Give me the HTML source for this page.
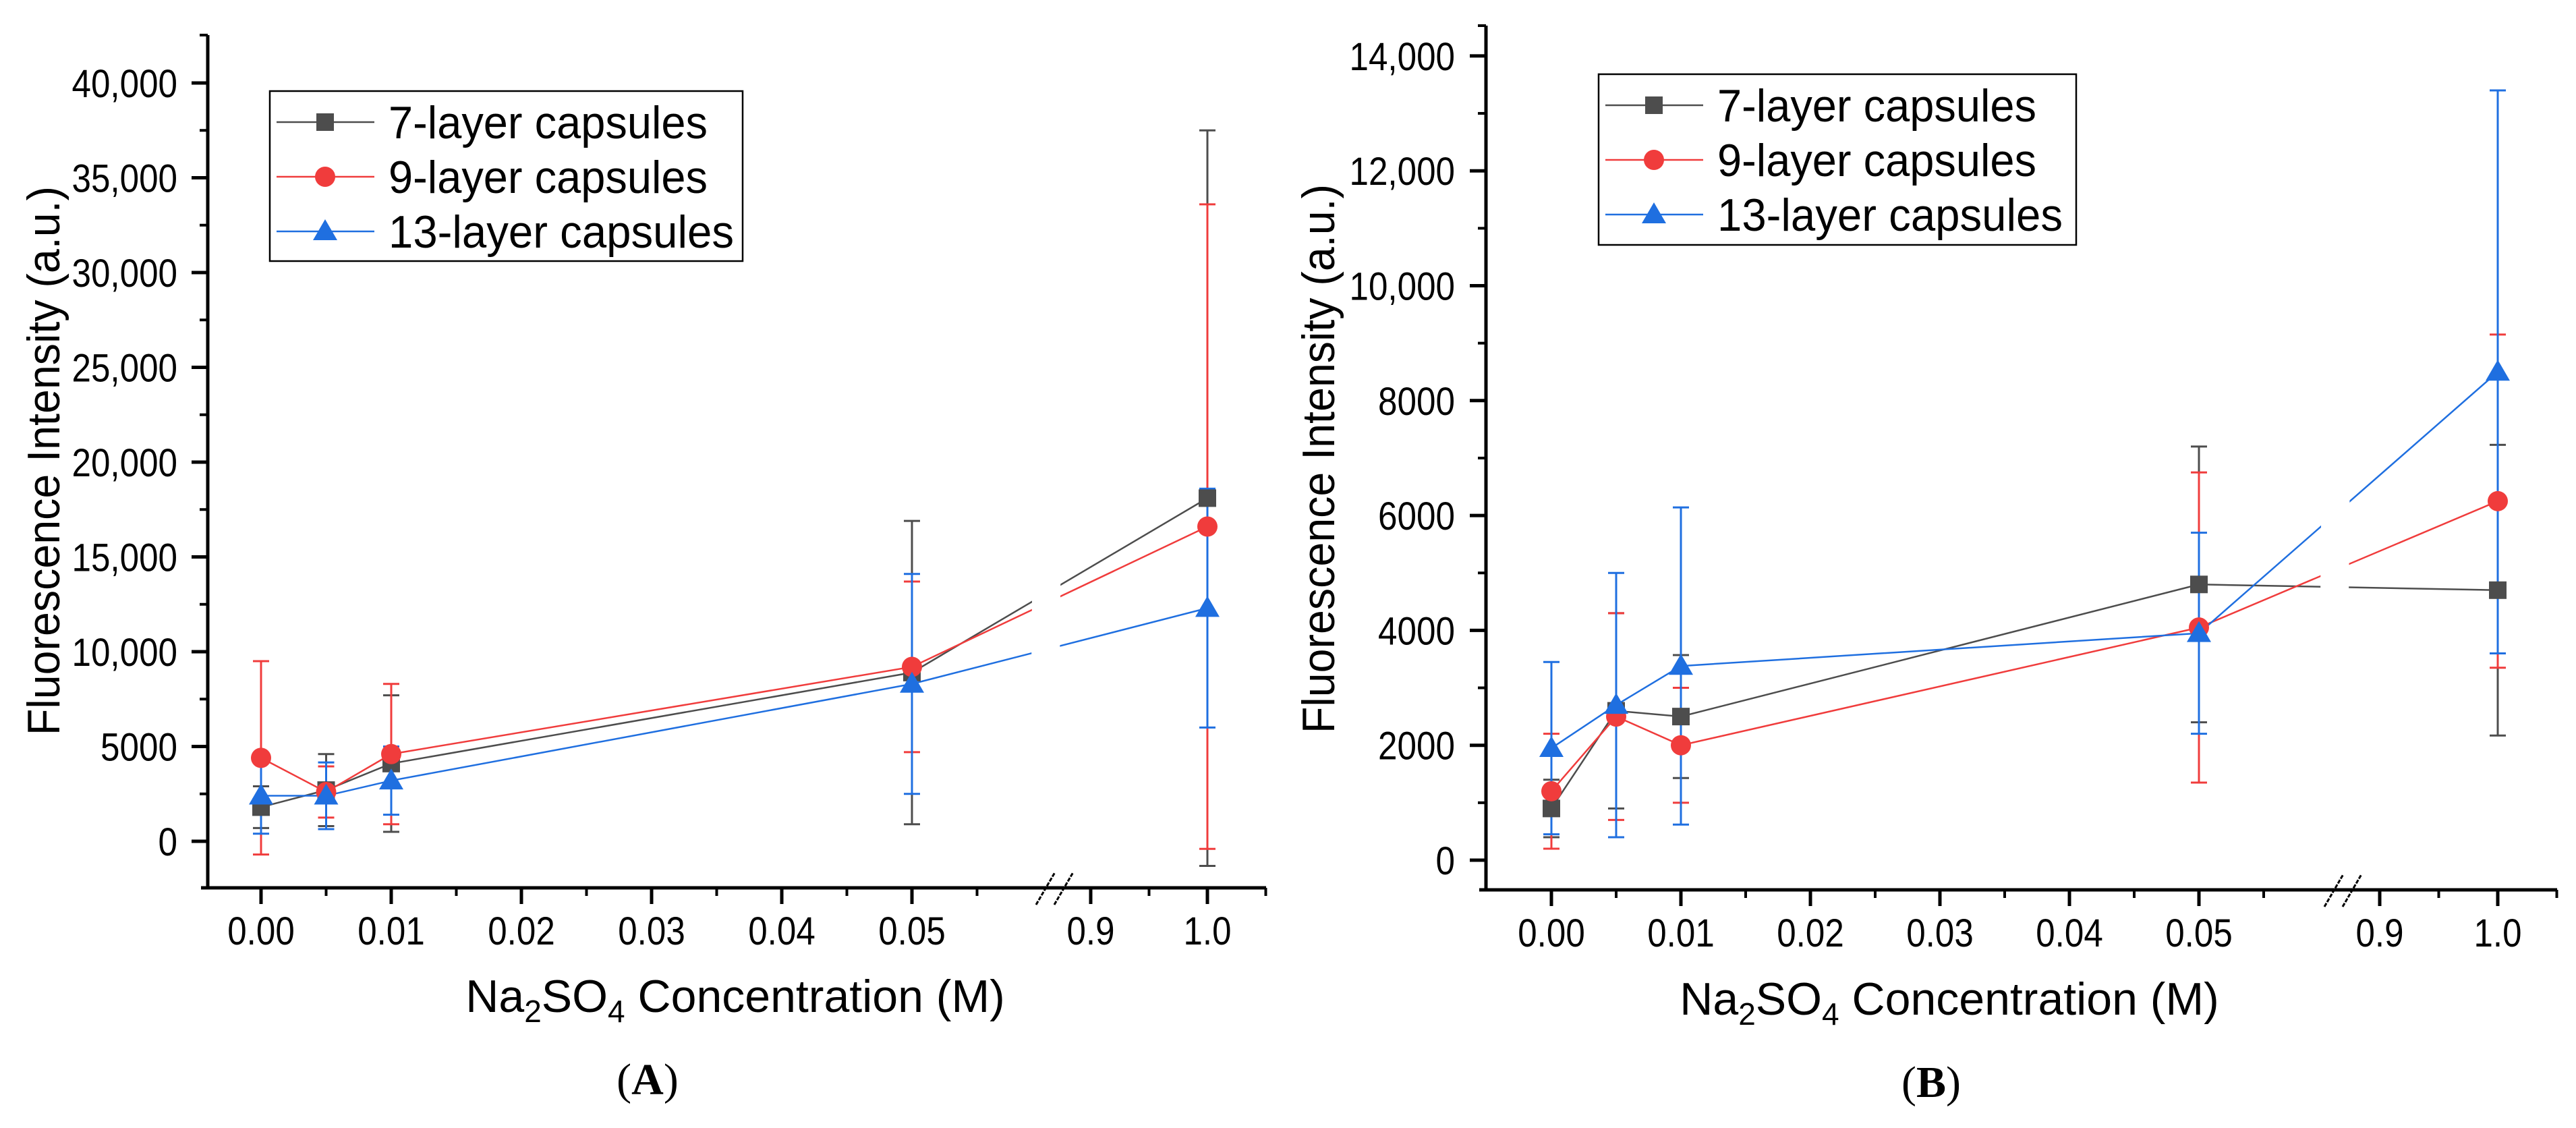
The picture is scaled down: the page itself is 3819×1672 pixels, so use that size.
<!DOCTYPE html>
<html><head><meta charset="utf-8"><style>
html,body{margin:0;padding:0;background:#fff;}
svg{display:block;font-family:"Liberation Sans",Arial,sans-serif;}
</style></head><body>
<svg id="chart" width="3819" height="1672" viewBox="0 0 3819 1672" xmlns="http://www.w3.org/2000/svg"></svg>
<script>
// Data
const categories = [0, 0.005, 0.01, 0.05, 1.0];
const seriesNames = ["7-layer capsules", "9-layer capsules", "13-layer capsules"];
const xTickLabelsLow = ["0.00", "0.01", "0.02", "0.03", "0.04", "0.05"];
const xTickLabelsHigh = ["0.9", "1.0"];
// Panel A
const a7 = [1800, 2700, 4100, 8900, 18100];
const a7err = [1100, 1900, 3600, 8000, 19400];
const a9 = [4400, 2600, 4600, 9200, 16600];
const a9err = [5100, 1350, 3700, 4500, 17000];
const a13 = [2400, 2400, 3200, 8300, 12300];
const a13err = [2000, 1760, 1800, 5800, 6300];
const aYTickLabels = ["0", "5000", "10,000", "15,000", "20,000", "25,000", "30,000", "35,000", "40,000"];
// Panel B
const b7 = [900, 2600, 2500, 4800, 4700];
const b7err = [500, 1700, 1070, 2400, 2530];
const b9 = [1200, 2500, 2000, 4050, 6250];
const b9err = [1000, 1800, 1000, 2700, 2900];
const b13 = [1950, 2700, 3380, 3950, 8500];
const b13err = [1500, 2300, 2760, 1750, 4900];
const bYTickLabels = ["0", "2000", "4000", "6000", "8000", "10,000", "12,000", "14,000"];

const NS = "http://www.w3.org/2000/svg";
const svg = document.getElementById("chart");
function mk(tag, attrs, parent) {
  const e = document.createElementNS(NS, tag);
  for (const k in attrs) e.setAttribute(k, attrs[k]);
  (parent || svg).appendChild(e);
  return e;
}
const colors = ["#4d4d4d", "#f03c3c", "#1f6fe0"];
function numLen(s) {
  let w = 0;
  for (const c of s) w += (c === "," || c === ".") ? 14 : 28.5;
  return w;
}

function drawPanel(P, series, errs, yLabels, yStep, panelName) {
  const g = mk("g", {});
  
  
  const xLow = v => P.x0 + (v / 0.01) * P.xPer01;
  const xHigh = v => P.x09 + (v - 0.9) / 0.1 * (P.x10 - P.x09);
  const X = v => v <= 0.1 ? xLow(v) : xHigh(v);
  const Y = v => P.y0 - v * P.yScale;

  const yAxis = mk("line", {x1: P.ax, y1: P.top, x2: P.ax, y2: P.axY + 2, stroke: "#000", "stroke-width": 5}, g);
  
  
  const xAxis = mk("line", {x1: P.ax - 10, y1: P.axY, x2: P.xEnd, y2: P.axY, stroke: "#000", "stroke-width": 5}, g);
  
  
  mk("line", {x1: P.ax - 12, y1: P.top, x2: P.ax, y2: P.top, stroke: "#000", "stroke-width": 4}, g);

  for (let i = 0; i < yLabels.length; i++) {
    const v = i * yStep, y = Y(v);
    mk("line", {x1: P.ax - 24, y1: y, x2: P.ax, y2: y, stroke: "#000", "stroke-width": 5}, g);
    const t = mk("text", {x: P.labR, y: y + 21, "text-anchor": "end", "font-size": 58, fill: "#000", textLength: numLen(yLabels[i]), lengthAdjust: "spacingAndGlyphs"}, g);
    t.textContent = yLabels[i];
    
    
    const ym = Y(v + yStep / 2);
    if (ym > P.top + 5) mk("line", {x1: P.ax - 12, y1: ym, x2: P.ax, y2: ym, stroke: "#000", "stroke-width": 4}, g);
  }
  const yneg = Y(-yStep / 2);
  if (yneg < P.axY - 5) mk("line", {x1: P.ax - 12, y1: yneg, x2: P.ax, y2: yneg, stroke: "#000", "stroke-width": 4}, g);

  for (let i = 0; i < xTickLabelsLow.length; i++) {
    const v = i * 0.01, x = xLow(v);
    mk("line", {x1: x, y1: P.axY, x2: x, y2: P.axY + 24, stroke: "#000", "stroke-width": 5}, g);
    const t = mk("text", {x: x, y: P.axY + 84, "text-anchor": "middle", "font-size": 58, fill: "#000", textLength: numLen(xTickLabelsLow[i]), lengthAdjust: "spacingAndGlyphs"}, g);
    t.textContent = xTickLabelsLow[i];
    
    
    const xm = xLow(v + 0.005);
    if (xm < P.brk - 20) mk("line", {x1: xm, y1: P.axY, x2: xm, y2: P.axY + 12, stroke: "#000", "stroke-width": 4}, g);
  }
  for (let i = 0; i < xTickLabelsHigh.length; i++) {
    const v = 0.9 + i * 0.1, x = xHigh(v);
    mk("line", {x1: x, y1: P.axY, x2: x, y2: P.axY + 24, stroke: "#000", "stroke-width": 5}, g);
    const t = mk("text", {x: x, y: P.axY + 84, "text-anchor": "middle", "font-size": 58, fill: "#000", textLength: numLen(xTickLabelsHigh[i]), lengthAdjust: "spacingAndGlyphs"}, g);
    t.textContent = xTickLabelsHigh[i];
    
    
    const xm = xHigh(v + 0.05);
    mk("line", {x1: xm, y1: P.axY, x2: xm, y2: P.axY + 12, stroke: "#000", "stroke-width": 4}, g);
  }

  series.forEach((vals, s) => {
    const sg = mk("g", {}, g);
    
    
    const pts = vals.map((v, i) => X(categories[i]) + "," + Y(v)).join(" ");
    mk("polyline", {points: pts, fill: "none", stroke: colors[s], "stroke-width": 2.5}, sg);
  });
  const gap = mk("polygon", {points: `${P.brk - 12},${P.top} ${P.brk + 30},${P.top} ${P.brk + 18},${P.axY - 4} ${P.brk - 24},${P.axY - 4}`, fill: "#fff"}, g);
  
  
  series.forEach((vals, s) => {
    vals.forEach((v, i) => {
      const x = X(categories[i]), e = errs[s][i];
      const eg = mk("g", {stroke: colors[s], "stroke-width": 3}, g);
      
      
      mk("line", {x1: x, y1: Y(v + e), x2: x, y2: Y(v - e)}, eg);
      mk("line", {x1: x - 12, y1: Y(v + e), x2: x + 12, y2: Y(v + e)}, eg);
      mk("line", {x1: x - 12, y1: Y(v - e), x2: x + 12, y2: Y(v - e)}, eg);
    });
  });
  series.forEach((vals, s) => {
    vals.forEach((v, i) => {
      const m = marker(g, s, X(categories[i]), Y(v));
      
      
    });
  });
  [0, 27].forEach(dx => {
    const bx = P.brk + dx;
    const sl = mk("line", {x1: bx - 14, y1: P.axY + 25, x2: bx + 14, y2: P.axY - 23, stroke: "#000", "stroke-width": 3, "stroke-dasharray": "6,2"}, g);
    
    
  });

  const yt = mk("text", {x: 0, y: 0, "text-anchor": "middle", "font-size": 68, fill: "#000", textLength: 814, lengthAdjust: "spacingAndGlyphs", transform: `translate(${P.ytX},${P.ytY}) rotate(-90)`}, g);
  yt.textContent = "Fluorescence Intensity (a.u.)";
  
  
  const xt = mk("text", {x: P.xtX, y: P.xtY, "text-anchor": "middle", "font-size": 68, fill: "#000"}, g);
  xt.innerHTML = 'Na<tspan font-size="46" dy="15">2</tspan><tspan dy="-15">SO</tspan><tspan font-size="46" dy="15">4</tspan><tspan dy="-15"> Concentration (M)</tspan>';
  
  
  const pl = mk("text", {x: P.plX, y: P.plY, "text-anchor": "middle", "font-size": 66, "font-family": "Liberation Serif, serif", fill: "#000"}, g);
  pl.innerHTML = '(<tspan font-weight="bold">' + P.letter + '</tspan>)';
  
  

  const lg = mk("g", {}, g);
  
  
  mk("rect", {x: P.lgX, y: P.lgY, width: P.lgW, height: P.lgH, fill: "#fff", stroke: "#000", "stroke-width": 2.5}, lg);
  const lens = [473, 473, 512];
  seriesNames.forEach((nm, s) => {
    const ry = P.lgY + 46 + s * 81;
    const eg = mk("g", {}, lg);
    
    
    mk("line", {x1: P.lgX + 10, y1: ry, x2: P.lgX + 155, y2: ry, stroke: colors[s], "stroke-width": 2.5}, eg);
    marker(eg, s, P.lgX + 82, ry);
    const t = mk("text", {x: P.lgX + 176, y: ry + 24, "font-size": 68, fill: "#000", textLength: lens[s], lengthAdjust: "spacingAndGlyphs"}, eg);
    t.textContent = nm;
  });
}

function marker(parent, s, x, y) {
  if (s === 0) return mk("rect", {x: x - 13, y: y - 13, width: 26, height: 26, fill: colors[0]}, parent);
  if (s === 1) return mk("circle", {cx: x, cy: y, r: 15, fill: colors[1]}, parent);
  return mk("polygon", {points: `${x},${y - 18} ${x + 18},${y + 13} ${x - 18},${y + 13}`, fill: colors[2]}, parent);
}

drawPanel({ax: 308, top: 52, y0: 1247, yScale: 140.5 / 5000, axY: 1316, x0: 387, xPer01: 193,
  x09: 1617, x10: 1790, xEnd: 1877, brk: 1550, labR: 263, ytX: 88, ytY: 683, xtX: 1090, xtY: 1500,
  plX: 960, plY: 1622, letter: "A", lgX: 400, lgY: 135, lgW: 701, lgH: 252},
  [a7, a9, a13], [a7err, a9err, a13err], aYTickLabels, 5000, "panel-a");
drawPanel({ax: 2203, top: 38, y0: 1275, yScale: 170.3 / 2000, axY: 1319, x0: 2300, xPer01: 192,
  x09: 3528, x10: 3703, xEnd: 3791, brk: 3460, labR: 2157, ytX: 1978, ytY: 680, xtX: 2890, xtY: 1504,
  plX: 2863, plY: 1626, letter: "B", lgX: 2370, lgY: 110, lgW: 708, lgH: 253},
  [b7, b9, b13], [b7err, b9err, b13err], bYTickLabels, 2000, "panel-b");
</script>
</body></html>
